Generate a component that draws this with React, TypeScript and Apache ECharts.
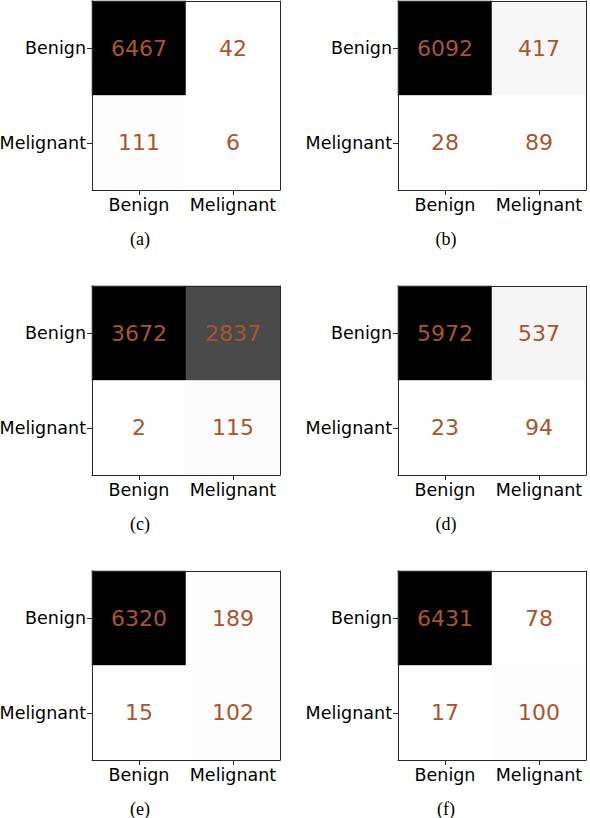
import React, { useEffect, useRef } from "react";
import * as echarts from "echarts";

const classes = ["Benign", "Melignant"];
const captions = ["(a)", "(b)", "(c)", "(d)", "(e)", "(f)"];
// confusion matrices, row-major: [true Benign → Benign, Melignant], [true Melignant → Benign, Melignant]
const matrixA = [6467, 42, 111, 6];
const matrixB = [6092, 417, 28, 89];
const matrixC = [3672, 2837, 2, 115];
const matrixD = [5972, 537, 23, 94];
const matrixE = [6320, 189, 15, 102];
const matrixF = [6431, 78, 17, 100];
const matrices = [matrixA, matrixB, matrixC, matrixD, matrixE, matrixF];

// matplotlib "Greys" colormap stops
const greys = ["#ffffff", "#f0f0f0", "#d9d9d9", "#bdbdbd", "#969696", "#737373", "#525252", "#252525", "#000000"];

const colLeft = [92, 398];
const rowTop = [1, 286, 571];
const gridW = 188;
const gridH = 189;
const frameColor = "#2a2a2a";
const labelFont = "DejaVu Sans";

export default function App() {
  const ref = useRef<HTMLDivElement>(null);
  useEffect(() => {
    if (!ref.current) return;
    const chart = echarts.init(ref.current, null, { renderer: "svg" });
    const grid: any[] = [];
    const xAxis: any[] = [];
    const yAxis: any[] = [];
    const series: any[] = [];
    const visualMap: any[] = [];
    const graphic: any[] = [];
    matrices.forEach((m, k) => {
      const col = k % 2;
      const row = Math.floor(k / 2);
      const left = colLeft[col];
      const top = rowTop[row];
      grid.push({ left, top, width: gridW, height: gridH, containLabel: false, outerBoundsMode: "none" });
      const lineStyle = { color: frameColor, width: 1 };
      // bottom x axis (labels)
      xAxis.push({
        type: "category",
        gridIndex: k,
        data: classes,
        position: "bottom",
        axisLine: { show: true, lineStyle },
        axisTick: { show: true, alignWithLabel: true, interval: 0, length: 5, lineStyle },
        axisLabel: { color: "#000", fontSize: 17.5, fontFamily: labelFont, margin: 6, interval: 0, hideOverlap: false },
        splitLine: { show: false },
        z: 10,
      });
      // top x axis (frame only)
      xAxis.push({
        type: "category",
        gridIndex: k,
        data: classes,
        position: "top",
        axisLine: { show: true, lineStyle },
        axisTick: { show: false },
        axisLabel: { show: false },
        splitLine: { show: false },
        z: 10,
      });
      yAxis.push({
        type: "category",
        gridIndex: k,
        data: classes,
        inverse: true,
        position: "left",
        axisLine: { show: true, lineStyle },
        axisTick: { show: true, alignWithLabel: true, interval: 0, length: 5, lineStyle },
        axisLabel: { color: "#000", fontSize: 17.5, fontFamily: labelFont, margin: 6, interval: 0, hideOverlap: false },
        splitLine: { show: false },
        z: 10,
      });
      yAxis.push({
        type: "category",
        gridIndex: k,
        data: classes,
        inverse: true,
        position: "right",
        axisLine: { show: true, lineStyle },
        axisTick: { show: false },
        axisLabel: { show: false },
        splitLine: { show: false },
        z: 10,
      });
      const data = m.map((v, idx) => [idx % 2, Math.floor(idx / 2), v]);
      series.push({
        type: "heatmap",
        xAxisIndex: 2 * k,
        yAxisIndex: 2 * k,
        data,
        label: {
          show: true,
          color: "#a9552e",
          fontSize: 22,
          fontFamily: labelFont,
          formatter: (p: any) => String(p.value[2]),
        },
        itemStyle: { borderWidth: 0 },
        emphasis: { disabled: true },
      });
      visualMap.push({
        type: "continuous",
        show: false,
        seriesIndex: k,
        dimension: 2,
        min: Math.min(...m),
        max: Math.max(...m),
        inRange: { color: greys },
      });
      graphic.push({
        type: "text",
        x: col === 0 ? 140 : 446,
        y: top + 238,
        style: {
          text: captions[k],
          textAlign: "center",
          textVerticalAlign: "middle",
          font: '18px "Liberation Serif"',
          fill: "#000",
        },
      });
    });
    chart.setOption({
      animation: false,
      backgroundColor: "#ffffff",
      grid,
      xAxis,
      yAxis,
      visualMap,
      series,
      graphic,
    });
    return () => chart.dispose();
  }, []);
  return (
    <div
      ref={ref}
      style={{ position: "absolute", left: 0, top: 0, width: 590, height: 818 }}
    />
  );
}
